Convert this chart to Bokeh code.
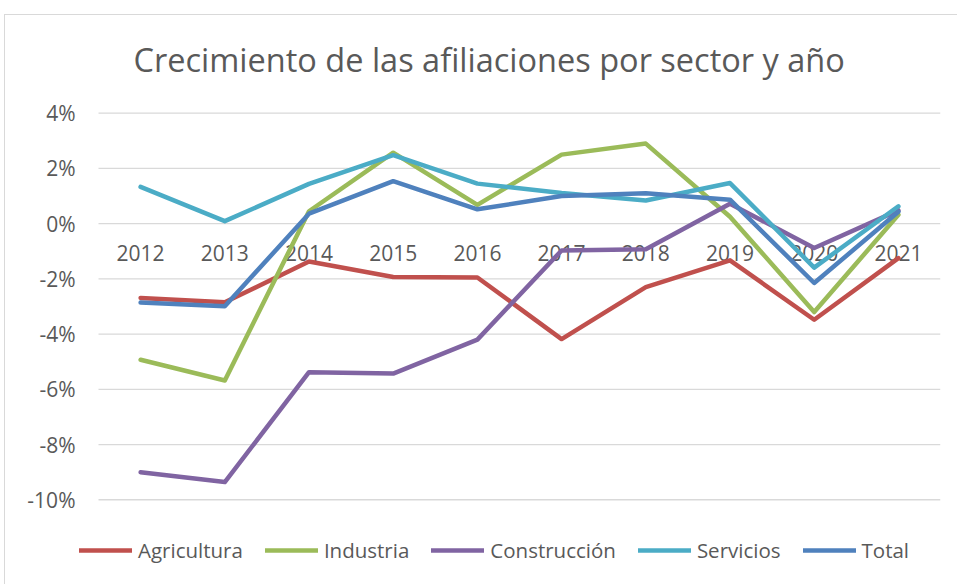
from bokeh.plotting import figure
from bokeh.models import Range1d, FixedTicker, PrintfTickFormatter, Legend, LegendItem
from bokeh.embed import file_html
from bokeh.resources import INLINE

years = [2012, 2013, 2014, 2015, 2016, 2017, 2018, 2019, 2020, 2021]
agricultura = [-2.69, -2.85, -1.37, -1.93, -1.95, -4.18, -2.30, -1.33, -3.48, -1.25]
industria = [-4.93, -5.68, 0.45, 2.57, 0.68, 2.50, 2.90, 0.25, -3.20, 0.32]
construccion = [-9.00, -9.36, -5.38, -5.43, -4.20, -0.97, -0.93, 0.72, -0.88, 0.48]
servicios = [1.33, 0.09, 1.44, 2.48, 1.45, 1.11, 0.84, 1.47, -1.59, 0.63]
total = [-2.86, -2.99, 0.36, 1.54, 0.52, 1.00, 1.10, 0.87, -2.15, 0.43]
y_ticks = [-10, -8, -6, -4, -2, 0, 2, 4]

series = [
    ("Agricultura", agricultura, "#C0504D"),
    ("Industria", industria, "#9BBB59"),
    ("Construcción", construccion, "#8064A2"),
    ("Servicios", servicios, "#4BACC6"),
    ("Total", total, "#4F81BD"),
]

TXT = "#595959"
FONT = "Open Sans"
GRID = "#D9D9D9"

# plot frame starts a little left of the first category band so the legend fits
x_lo = years[0] - 0.5
x_hi = years[-1] + 0.5
p = figure(width=957, height=584, output_backend="svg", toolbar_location=None,
           x_range=Range1d(x_lo - 0.2257, x_hi), y_range=Range1d(-12.707, 4.207),
           min_border_left=79, min_border_right=17, min_border_top=107, min_border_bottom=10,
           title="Crecimiento de las afiliaciones por sector y año")
# thin light chart-area border (left and top edges), drawn behind a transparent canvas
p.styles = {"background": ("linear-gradient(#D9D9D9, #D9D9D9) 4px 14px / 1px 700px no-repeat, "
                           "linear-gradient(#D9D9D9, #D9D9D9) 4px 14px / 1200px 1px no-repeat, "
                           "#FFFFFF")}
p.outline_line_color = None
p.background_fill_color = "white"
p.border_fill_alpha = 0

p.title.align = "left"
p.title.offset = 54
p.title.text_font = FONT
p.title.text_font_size = "32.5px"
p.title.text_font_style = "normal"
p.title.text_color = TXT
p.title.standoff = 51

# y axis
p.yaxis.ticker = FixedTicker(ticks=y_ticks)
p.yaxis.formatter = PrintfTickFormatter(format="%d%%")
p.yaxis.axis_line_color = None
p.yaxis.major_tick_line_color = None
p.yaxis.minor_tick_line_color = None
p.yaxis.major_tick_out = 0
p.yaxis.major_label_standoff = 4
p.yaxis.major_label_text_font = FONT
p.yaxis.major_label_text_font_size = "21px"
p.yaxis.major_label_text_color = TXT

# x axis crossing at 0
p.xaxis.ticker = FixedTicker(ticks=years)
p.xaxis.fixed_location = 0
p.xaxis.axis_line_color = None
p.xaxis.major_tick_line_color = None
p.xaxis.minor_tick_line_color = None
p.xaxis.major_tick_out = 0
p.xaxis.major_label_standoff = 21
p.xaxis.major_label_text_font = FONT
p.xaxis.major_label_text_font_size = "21px"
p.xaxis.major_label_text_color = TXT
p.xaxis.level = "underlay"

p.grid.grid_line_color = None
# horizontal gridlines across the category bands
p.segment(x0=[x_lo] * len(y_ticks), x1=[x_hi] * len(y_ticks), y0=y_ticks, y1=y_ticks,
          line_color=GRID, line_width=1.3, level="underlay")

items = []
for name, vals, color in series:
    r = p.line(years, vals, line_color=color, line_width=4.5,
               line_join="round", line_cap="round")
    items.append(LegendItem(label=name, renderers=[r]))

legend = Legend(items=items, orientation="horizontal", location=(0, 10))
legend.glyph_width = 53
legend.glyph_height = 20
legend.label_standoff = 6
legend.spacing = 22
legend.padding = 0
legend.margin = 0
legend.border_line_color = None
legend.background_fill_alpha = 0
legend.label_text_font = FONT
legend.label_text_font_size = "20.5px"
legend.label_text_color = TXT
p.add_layout(legend, "center")

open("out.html", "w").write(file_html(p, INLINE))
